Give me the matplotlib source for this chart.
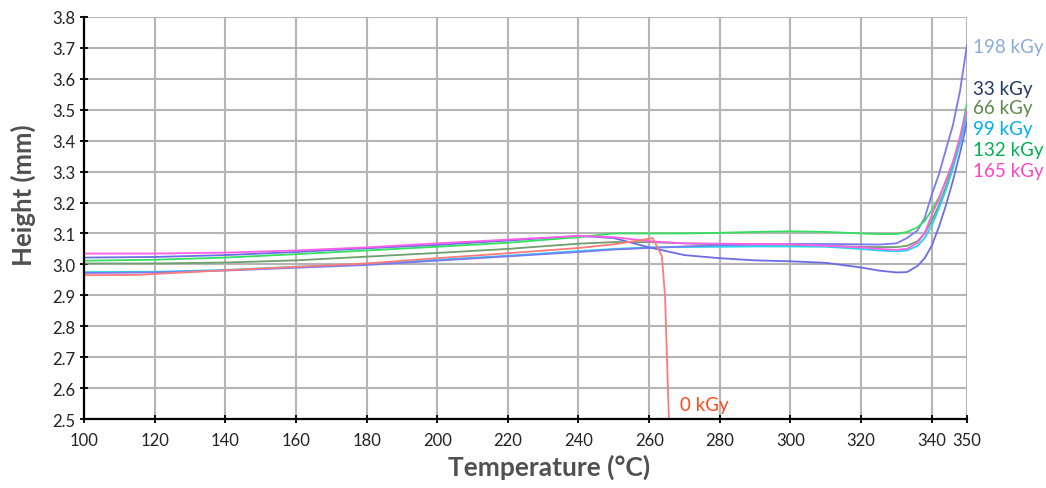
import matplotlib.pyplot as plt

plt.rcParams['font.family'] = ['Lato', 'DejaVu Sans']

# temperatures shared by the irradiated samples (deg C)
temp = [100, 120, 140, 160, 180, 200, 220, 240, 250, 260, 270, 280, 290, 300,
        310, 320, 325, 330, 333, 336, 338, 340, 342, 344, 346, 348, 350]

h_33 = [3.022, 3.024, 3.030, 3.040, 3.052, 3.063, 3.077, 3.092, 3.085, 3.055,
        3.030, 3.020, 3.013, 3.010, 3.005, 2.990, 2.980, 2.974, 2.975, 2.995,
        3.020, 3.060, 3.120, 3.190, 3.270, 3.360, 3.460]
h_66 = [3.003, 3.003, 3.006, 3.013, 3.025, 3.037, 3.050, 3.067, 3.072, 3.072,
        3.068, 3.065, 3.064, 3.063, 3.060, 3.057, 3.056, 3.056, 3.060, 3.075,
        3.100, 3.140, 3.190, 3.250, 3.320, 3.400, 3.500]
h_99 = [2.975, 2.976, 2.982, 2.992, 3.002, 3.015, 3.028, 3.043, 3.050, 3.055,
        3.056, 3.057, 3.058, 3.058, 3.057, 3.050, 3.045, 3.042, 3.045, 3.060,
        3.085, 3.125, 3.180, 3.240, 3.310, 3.390, 3.480]
h_132 = [3.012, 3.015, 3.022, 3.033, 3.045, 3.057, 3.070, 3.088, 3.100, 3.100,
         3.100, 3.102, 3.105, 3.107, 3.105, 3.100, 3.098, 3.098, 3.105, 3.120,
         3.140, 3.175, 3.215, 3.270, 3.330, 3.410, 3.520]
h_165 = [3.035, 3.035, 3.038, 3.045, 3.055, 3.068, 3.080, 3.092, 3.088, 3.075,
         3.068, 3.067, 3.066, 3.065, 3.060, 3.055, 3.050, 3.047, 3.050, 3.070,
         3.100, 3.160, 3.210, 3.270, 3.330, 3.410, 3.500]
h_198 = [2.972, 2.974, 2.980, 2.989, 2.998, 3.012, 3.026, 3.040, 3.048, 3.053,
         3.058, 3.062, 3.064, 3.066, 3.066, 3.065, 3.064, 3.068, 3.085, 3.110,
         3.150, 3.225, 3.290, 3.370, 3.450, 3.560, 3.710]

# unirradiated sample collapses near 265 deg C
temp_0 = [100, 115, 120, 140, 160, 180, 200, 220, 240, 250, 258, 261, 263.6, 264.5, 265.6]
h_0 = [2.965, 2.966, 2.969, 2.981, 2.992, 3.003, 3.020, 3.036, 3.053, 3.065,
       3.079, 3.085, 3.027, 2.898, 2.500]

x_ticks = [100, 120, 140, 160, 180, 200, 220, 240, 260, 280, 300, 320, 340, 350]
y_ticks = [2.5, 2.6, 2.7, 2.8, 2.9, 3.0, 3.1, 3.2, 3.3, 3.4, 3.5, 3.6, 3.7, 3.8]

fig = plt.figure(figsize=(10.46, 4.89), dpi=100)
ax = fig.add_axes([0.0803, 0.1411, 0.8442, 0.8221])

ax.plot(temp, h_66, color='#6f9f6f', lw=1.3)
ax.plot(temp, h_99, color='#22d4f0', lw=1.3)
ax.plot(temp, h_198, color='#7a7af2', lw=1.3)
ax.plot(temp, h_33, color='#6c6ce6', lw=1.3)
ax.plot(temp, h_132, color='#33e060', lw=1.3)
ax.plot(temp, h_165, color='#ff5ee8', lw=1.3)
ax.plot(temp_0, h_0, color='#ff7a7a', lw=1.3)

ax.set_xlim(100, 350)
ax.set_ylim(2.5, 3.8)
ax.set_xticks(x_ticks)
ax.set_yticks(y_ticks)
ax.set_yticklabels(['%.1f' % v for v in y_ticks])
ax.grid(True, color='#b5b5b5', lw=1.5)
ax.set_axisbelow(True)
for s in ['top', 'right']:
    ax.spines[s].set_visible(False)
for s in ['left', 'bottom']:
    ax.spines[s].set_linewidth(1.6)
    ax.spines[s].set_color('black')
    ax.spines[s].set_zorder(5)
ax.tick_params(direction='inout', length=6, width=1.3, labelsize=12,
               labelcolor='#222222')
ax.tick_params(axis='x', pad=6)

ax.set_xlabel('Temperature (°C)', fontsize=19, fontweight='bold', color='#505050')
ax.set_ylabel('Height (mm)', fontsize=18.5, fontweight='bold', color='#505050')
ax.xaxis.set_label_coords(0.527, -0.085)
ax.yaxis.set_label_coords(-0.054, 0.56)

# curve labels
ax.text(351.6, 3.706, '198 kGy', color='#8eaadb', fontsize=13.5, va='center', clip_on=False)
ax.text(351.6, 3.570, '33 kGy', color='#1f3864', fontsize=13.5, va='center', clip_on=False)
ax.text(351.6, 3.506, '66 kGy', color='#5a8a4a', fontsize=13.5, va='center', clip_on=False)
ax.text(351.6, 3.438, '99 kGy', color='#00b0f0', fontsize=13.5, va='center', clip_on=False)
ax.text(351.6, 3.370, '132 kGy', color='#00b050', fontsize=13.5, va='center', clip_on=False)
ax.text(351.6, 3.302, '165 kGy', color='#ff44c8', fontsize=13.5, va='center', clip_on=False)
ax.text(268.7, 2.548, '0 kGy', color='#ff4a1a', fontsize=13.5, va='center')

fig.savefig('out.png', dpi=100)
